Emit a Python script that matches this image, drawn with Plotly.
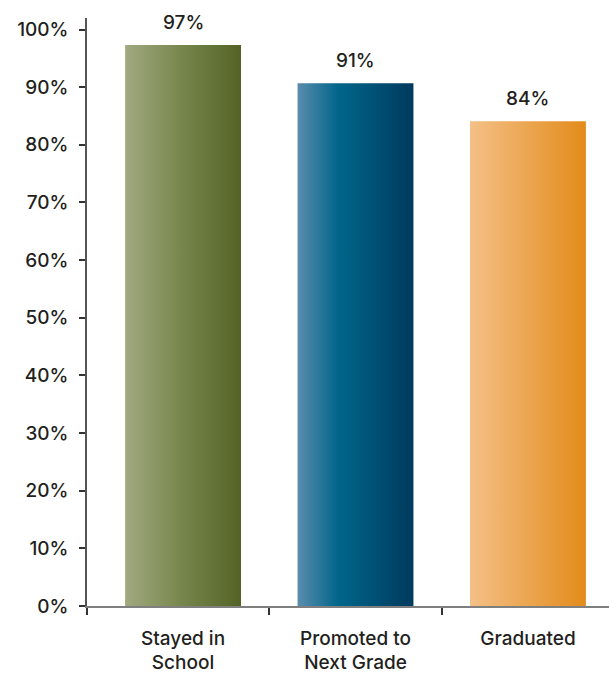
import plotly.graph_objects as go

categories = ["Stayed in<br>School", "Promoted to<br>Next Grade", "Graduated"]
values = [97.3, 90.7, 84.1]
value_labels = ["97%", "91%", "84%"]
y_ticks = [0, 10, 20, 30, 40, 50, 60, 70, 80, 90, 100]
y_tick_labels = [f"{v}%" for v in y_ticks]
bar_gradients = [
    [[0, "#a1a980"], [0.5, "#76854b"], [1, "#546325"]],
    [[0, "#5a8cad"], [0.35, "#00668a"], [1, "#003a5f"]],
    [[0, "#f4c087"], [1, "#e38b1a"]],
]

BAR_WIDTH = 0.672
X_RANGE = [-0.557, 2.47]
FONT = "Inter"
TEXT_COLOR = "#231f20"
FONT_SIZE = 19

fig = go.Figure()
for i, (v, grad) in enumerate(zip(values, bar_gradients)):
    x0, x1 = i - BAR_WIDTH / 2, i + BAR_WIDTH / 2
    fig.add_trace(go.Scatter(
        x=[x0, x1, x1, x0, x0],
        y=[0, 0, v, v, 0],
        mode="lines",
        fill="toself",
        fillgradient=dict(type="horizontal", colorscale=grad),
        line=dict(width=0),
        hoverinfo="skip",
        showlegend=False,
    ))
    fig.add_annotation(
        x=i, y=v, text=value_labels[i], showarrow=False,
        yshift=23, font=dict(family=FONT, size=FONT_SIZE, color=TEXT_COLOR, weight=500),
    )

fig.update_layout(
    width=609, height=673,
    margin=dict(l=87, r=0, t=18, b=67),
    paper_bgcolor="white", plot_bgcolor="white",
    showlegend=False,
    font=dict(family=FONT, color=TEXT_COLOR),
)
fig.update_xaxes(
    range=X_RANGE,
    automargin=False,
    tickmode="array",
    tickvals=list(range(len(categories))),
    ticktext=categories,
    ticks="",
    showgrid=False, zeroline=False,
    showline=True, linecolor="#7f7f7f", linewidth=1.5,
    tickfont=dict(family=FONT, size=FONT_SIZE, color=TEXT_COLOR, weight=500),
    ticklabelstandoff=14,
    minor=dict(tickmode="array", tickvals=[X_RANGE[0], 0.5, 1.5], ticks="outside",
               ticklen=7, tickcolor="#333333", tickwidth=1.5, showgrid=False),
    fixedrange=True,
)
fig.update_yaxes(
    range=[0, 102],
    automargin=False,
    tickmode="array",
    tickvals=y_ticks,
    ticktext=y_tick_labels,
    ticks="outside", ticklen=6, tickcolor="#333333", tickwidth=1.5,
    showgrid=False, zeroline=False,
    showline=True, linecolor="#555555", linewidth=1.5,
    tickfont=dict(family=FONT, size=FONT_SIZE, color=TEXT_COLOR, weight=500),
    ticklabelstandoff=7,
    fixedrange=True,
)

fig.write_html("out.html")
